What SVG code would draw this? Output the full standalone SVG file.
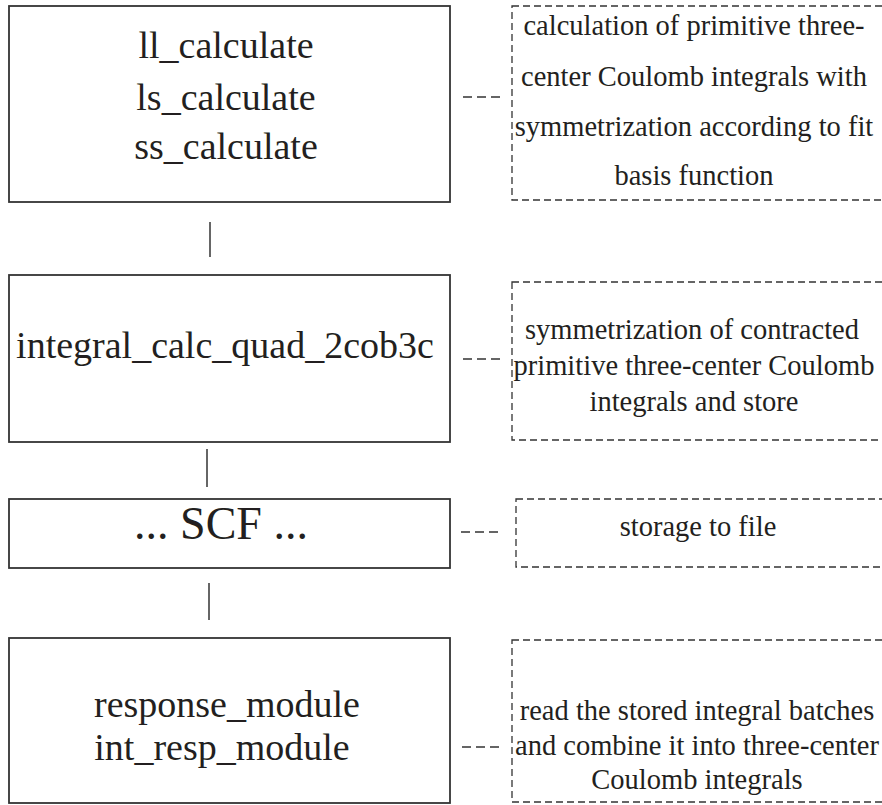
<svg xmlns="http://www.w3.org/2000/svg" width="882" height="805" viewBox="0 0 882 805">
<style>
.box{fill:#fff;stroke:#333;stroke-width:1.8}
.note{fill:none;stroke:#333;stroke-width:1.3;stroke-dasharray:7 4}
.link{stroke:#333;stroke-width:1.5;fill:none}
.tie{stroke:#333;stroke-width:1.3;stroke-dasharray:9 5;fill:none}
.t{font-family:"Liberation Serif","Times New Roman",serif;fill:#231f20;text-anchor:middle}
.big{font-size:38px}
.scf{font-size:46px}
.sm{font-size:28.5px}
</style>
<rect width="882" height="805" fill="#fff"/>
<g id="connectors">
<line class="link" x1="210" y1="222" x2="210" y2="257"/>
<line class="link" x1="207" y1="449" x2="207" y2="487"/>
<line class="link" x1="209" y1="583" x2="209" y2="620"/>
<line class="tie" x1="463" y1="97" x2="500" y2="97"/>
<line class="tie" x1="463" y1="359" x2="500" y2="359"/>
<line class="tie" x1="461" y1="532" x2="498" y2="532"/>
<line class="tie" x1="462" y1="747" x2="499" y2="747"/>
</g>
<g id="node1">
<rect class="box" x="9" y="6" width="441" height="196"/>
<text class="t big" x="226" y="58">ll_calculate</text>
<text class="t big" x="226" y="110">ls_calculate</text>
<text class="t big" x="226" y="159">ss_calculate</text>
</g>
<g id="note1">
<rect class="note" x="512" y="6" width="390" height="194"/>
<text class="t sm" x="694" y="35">calculation of primitive three-</text>
<text class="t sm" x="694" y="86">center Coulomb integrals with</text>
<text class="t sm" x="694" y="136">symmetrization according to fit</text>
<text class="t sm" x="694" y="185">basis function</text>
</g>
<g id="node2">
<rect class="box" x="9" y="275" width="441" height="167"/>
<text class="t big" x="225" y="358">integral_calc_quad_2cob3c</text>
</g>
<g id="note2">
<rect class="note" x="512" y="282" width="390" height="158"/>
<text class="t sm" x="692" y="339">symmetrization of contracted</text>
<text class="t sm" x="694" y="375">primitive three-center Coulomb</text>
<text class="t sm" x="694" y="411">integrals and store</text>
</g>
<g id="node3">
<rect class="box" x="9" y="499" width="441" height="69"/>
<text class="t scf" x="221" y="539">... SCF ...</text>
</g>
<g id="note3">
<rect class="note" x="516" y="499" width="390" height="68"/>
<text class="t sm" x="698" y="536">storage to file</text>
</g>
<g id="node4">
<rect class="box" x="9" y="638" width="441" height="165"/>
<text class="t big" x="227" y="717">response_module</text>
<text class="t big" x="222" y="760">int_resp_module</text>
</g>
<g id="note4">
<rect class="note" x="512" y="640" width="390" height="162"/>
<text class="t sm" x="697" y="720">read the stored integral batches</text>
<text class="t sm" x="697" y="755">and combine it into three-center</text>
<text class="t sm" x="697" y="789">Coulomb integrals</text>
</g>
</svg>
